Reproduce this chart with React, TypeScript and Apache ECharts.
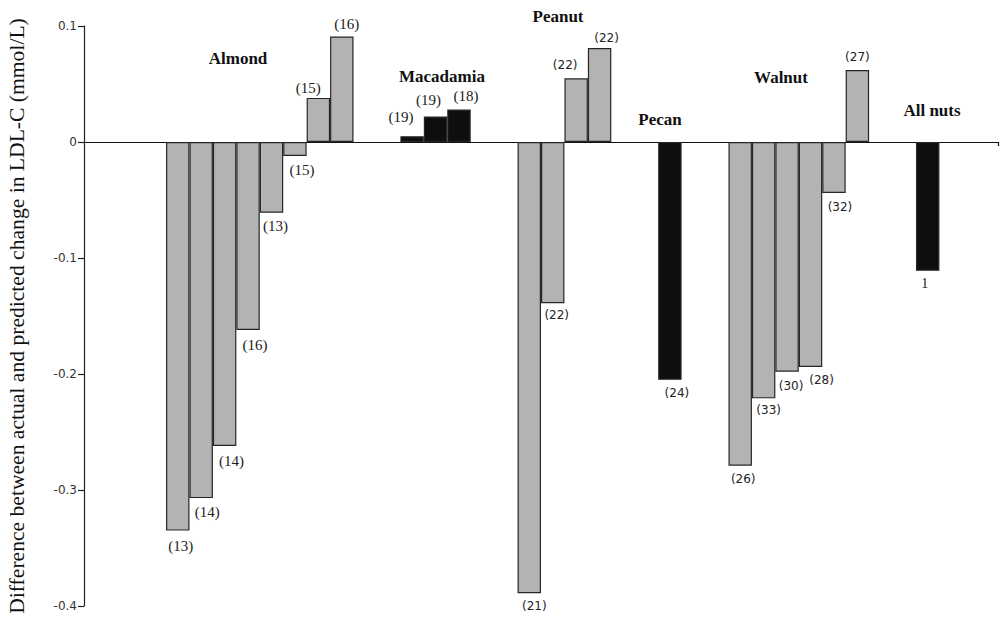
import { useEffect, useRef } from "react";
import * as echarts from "echarts";

// ---- data ----
const groupNames = ["Almond", "Macadamia", "Peanut", "Pecan", "Walnut", "All nuts"];
const almondValues = [-0.335, -0.307, -0.262, -0.162, -0.061, -0.012, 0.038, 0.091];
const macadamiaValues = [0.005, 0.022, 0.028];
const peanutValues = [-0.389, -0.139, 0.055, 0.081];
const pecanValues = [-0.205];
const walnutValues = [-0.279, -0.221, -0.198, -0.194, -0.044, 0.062];
const allNutsValues = [-0.111];

const almondRefs = ["(13)", "(14)", "(14)", "(16)", "(13)", "(15)", "(15)", "(16)"];
const macadamiaRefs = ["(19)", "(19)", "(18)"];
const peanutRefs = ["(21)", "(22)", "(22)", "(22)"];
const pecanRefs = ["(24)"];
const walnutRefs = ["(26)", "(33)", "(30)", "(28)", "(32)", "(27)"];
const allNutsRefs = ["1"];

const yMin = -0.4;
const yMax = 0.1;
const yStep = 0.1;
const yAxisTitle = "Difference between actual and predicted change in LDL-C (mmol/L)";

// ---- styling (not data) ----
const GRAY = "#b3b3b3";
const BLACK = "#0e0e0e";
const groupFill = [GRAY, BLACK, GRAY, BLACK, GRAY, BLACK];
const groupLabelFont = ["Liberation Serif", "Liberation Serif", "DejaVu Sans", "DejaVu Sans", "DejaVu Sans", "Liberation Serif"];
const groupLabelSize = [15, 15, 12, 12, 12, 14];
// label nudges (horizontal shift, distance of label centre from bar end)
const almondNudge = [[3, 15], [6, 14], [7, 15], [7, 15], [4, 13], [7, 14], [-10, 10], [5, 12]];
const macadamiaNudge = [[-11, 19], [-7, 16], [7, 14]];
const peanutNudge = [[5, 13], [4, 12], [-11, 13], [7, 10]];
const pecanNudge = [[7, 13]];
const walnutNudge = [[3, 13], [5, 12], [4, 14], [11, 13], [6, 14], [0, 13]];
const allNutsNudge = [[-3, 13]];
// group title anchor points (centre) in pixels
const groupTitlePos = [[238, 58], [442, 76], [558, 16], [660, 119], [781, 77], [932, 110]];
// empty category slots: before first group, between groups, after last
const leadSlots = 4;
const gapSlots = 2;
const tailSlots = 3;

const groupValues = [almondValues, macadamiaValues, peanutValues, pecanValues, walnutValues, allNutsValues];
const groupRefs = [almondRefs, macadamiaRefs, peanutRefs, pecanRefs, walnutRefs, allNutsRefs];
const groupNudges = [almondNudge, macadamiaNudge, peanutNudge, pecanNudge, walnutNudge, allNutsNudge];

export default function App() {
  const ref = useRef<HTMLDivElement>(null);
  useEffect(() => {
    if (!ref.current) return;
    const chart = echarts.init(ref.current, undefined, { renderer: "svg" });

    const categories: string[] = [];
    const seriesData: any[] = [];
    const pushSpacer = (n: number, tag: string) => {
      for (let i = 0; i < n; i++) {
        categories.push(`${tag}-${i}`);
        seriesData.push("-");
      }
    };
    pushSpacer(leadSlots, "lead");
    groupValues.forEach((vals, g) => {
      if (g > 0) pushSpacer(gapSlots, `gap${g}`);
      vals.forEach((v, i) => {
        categories.push(`${groupNames[g]} ${i + 1}`);
        const neg = v < 0;
        const fs = groupLabelSize[g];
        const [dx, dist] = groupNudges[g][i];
        seriesData.push({
          value: v,
          itemStyle: { color: groupFill[g] },
          label: {
            show: true,
            formatter: groupRefs[g][i],
            position: neg ? "bottom" : "top",
            distance: Math.max(0, dist - fs / 2),
            offset: [dx, 0],
            fontFamily: groupLabelFont[g],
            fontSize: fs,
            lineHeight: fs,
            color: "#222",
          },
        });
      });
    });
    pushSpacer(tailSlots, "tail");
    const lastIndex = categories.length - 1;

    chart.setOption({
      animation: false,
      backgroundColor: "#ffffff",
      grid: { left: 84, right: 9, top: 26, bottom: 15, containLabel: false, outerBoundsMode: "none" },
      xAxis: {
        type: "category",
        data: categories,
        boundaryGap: false,
        axisLine: { onZero: true, lineStyle: { color: "#111", width: 1.2 } },
        axisTick: {
          show: true,
          length: 4,
          interval: (index: number) => index === lastIndex,
          lineStyle: { color: "#111", width: 1.2 },
        },
        axisLabel: { show: false },
        splitLine: { show: false },
      },
      yAxis: {
        type: "value",
        min: yMin,
        max: yMax,
        interval: yStep,
        name: yAxisTitle,
        nameLocation: "middle",
        nameRotate: 90,
        nameGap: 56,
        nameTextStyle: { fontFamily: "Liberation Serif", fontSize: 21.6, color: "#111" },
        axisLine: { show: true, onZero: false, lineStyle: { color: "#222", width: 1.2 } },
        axisTick: { show: true, inside: false, length: 6, lineStyle: { color: "#222", width: 1.2 } },
        axisLabel: {
          margin: 7,
          fontFamily: "DejaVu Sans",
          fontSize: 12,
          color: "#333",
          formatter: (v: number) => `${Math.round(v * 10) / 10}`,
        },
        splitLine: { show: false },
      },
      series: [
        {
          type: "bar",
          data: seriesData,
          barWidth: "100%",
          itemStyle: { borderColor: "#262626", borderWidth: 1.2 },
          z: 1,
        },
      ],
      graphic: groupNames.map((name, g) => ({
        type: "text",
        x: groupTitlePos[g][0],
        y: groupTitlePos[g][1],
        style: {
          text: name,
          fontFamily: "Liberation Serif",
          fontWeight: "bold",
          fontSize: 17,
          fill: "#111",
          align: "center",
          verticalAlign: "middle",
        },
      })),
    });
    return () => chart.dispose();
  }, []);
  return (
    <div
      ref={ref}
      style={{ position: "absolute", left: 0, top: 0, width: 1007, height: 621 }}
    />
  );
}
